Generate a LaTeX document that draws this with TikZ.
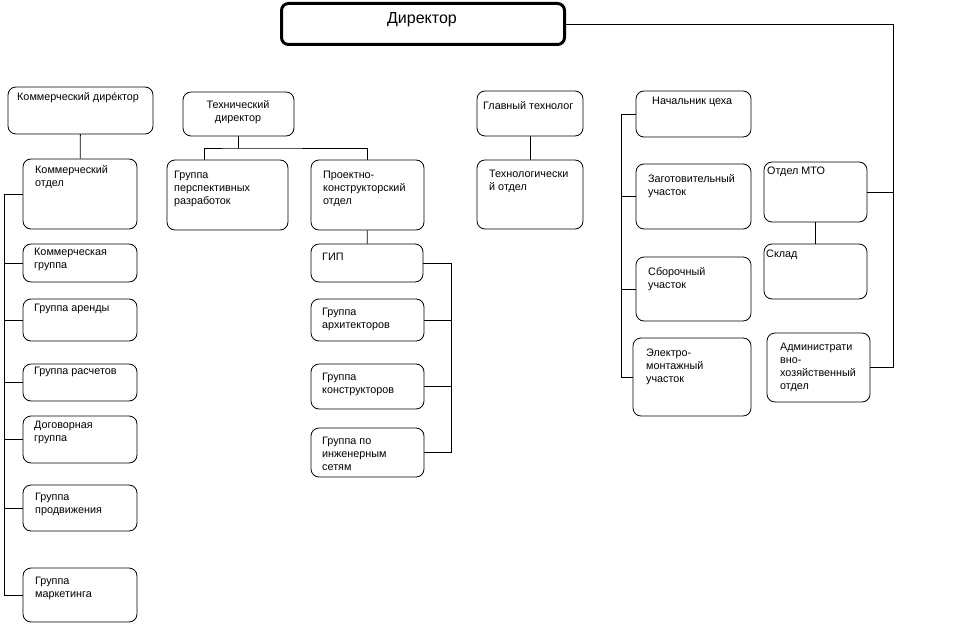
\documentclass[tikz,border=0pt]{standalone}
\usepackage{fontspec}
\setmainfont{Liberation Sans}
\tikzset{
	orgbox/.style={draw, rounded corners=8pt, line width=0.8pt, inner sep=0pt},
	orgtxt/.style={inner sep=0pt, align=left, anchor=north west, font=\fontsize{10.8}{13}\selectfont},
	orgline/.style={line width=0.8pt},
}

\begin{document}
\begin{tikzpicture}[x=1pt, y=-1pt]
	\useasboundingbox (0,0) rectangle (965,628);

	% Director
	\node[orgbox, line width=3pt, rounded corners=7pt, minimum width=283, minimum height=41] (dir) at (423,24) {};
	\node[font=\fontsize{16}{18}\selectfont, inner sep=0pt, anchor=north] (dir-t) at (422,12) {Директор};

	% Commercial branch
	\node[orgbox, minimum width=145, minimum height=47] (kdir) at (80.5,110.5) {};
	\node[orgtxt] (kdir-t) at (17,92) {Коммерческий дире́ктор};
	\node[orgbox, minimum width=114, minimum height=70] (kotd) at (80,194) {};
	\node[orgtxt] (kotd-t) at (35,165) {Коммерческий\\отдел};
	\node[orgbox, minimum width=114, minimum height=38] (kgr) at (80,263) {};
	\node[orgtxt] (kgr-t) at (34,248) {Коммерческая\\группа};
	\node[orgbox, minimum width=114, minimum height=42] (kar) at (80,320) {};
	\node[orgtxt] (kar-t) at (34,304) {Группа аренды};
	\node[orgbox, minimum width=114, minimum height=37] (kras) at (80,382.5) {};
	\node[orgtxt] (kras-t) at (34,367) {Группа расчетов};
	\node[orgbox, minimum width=114, minimum height=47] (kdog) at (80,439.5) {};
	\node[orgtxt] (kdog-t) at (34,421) {Договорная\\группа};
	\node[orgbox, minimum width=114, minimum height=46] (kprod) at (80,508) {};
	\node[orgtxt] (kprod-t) at (35,493) {Группа\\продвижения};
	\node[orgbox, minimum width=114, minimum height=54] (kmar) at (80,595) {};
	\node[orgtxt] (kmar-t) at (35,577) {Группа\\маркетинга};

	% Technical branch
	\node[orgbox, minimum width=111, minimum height=44] (tdir) at (238.5,114) {};
	\node[orgtxt, align=center, anchor=north] (tdir-t) at (238,100) {Технический\\директор};
	\node[orgbox, minimum width=121, minimum height=70] (persp) at (227.5,195) {};
	\node[orgtxt] (persp-t) at (174,171) {Группа\\перспективных\\разработок};
	\node[orgbox, minimum width=113, minimum height=70] (proj) at (367.5,195) {};
	\node[orgtxt] (proj-t) at (323,171) {Проектно-\\конструкторский\\отдел};
	\node[orgbox, minimum width=112, minimum height=38] (gip) at (367,263) {};
	\node[orgtxt] (gip-t) at (322,253) {ГИП};
	\node[orgbox, minimum width=113, minimum height=42] (arch) at (367.5,320) {};
	\node[orgtxt] (arch-t) at (322,308) {Группа\\архитекторов};
	\node[orgbox, minimum width=113, minimum height=45] (konstr) at (367.5,386.5) {};
	\node[orgtxt] (konstr-t) at (322,373) {Группа\\конструкторов};
	\node[orgbox, minimum width=113, minimum height=49] (inzh) at (367.5,452.5) {};
	\node[orgtxt] (inzh-t) at (322,437) {Группа по\\инженерным\\сетям};

	% Technologist
	\node[orgbox, minimum width=106, minimum height=45] (gtech) at (530,113.5) {};
	\node[orgtxt] (gtech-t) at (483,101) {Главный технолог};
	\node[orgbox, minimum width=106, minimum height=69] (totd) at (530,194.5) {};
	\node[orgtxt] (totd-t) at (489,170) {Технологически\\й отдел};

	% Workshop
	\node[orgbox, minimum width=115, minimum height=46] (nach) at (693.5,114) {};
	\node[orgtxt] (nach-t) at (652,97) {Начальник цеха};
	\node[orgbox, minimum width=115, minimum height=65] (zag) at (693.5,196.5) {};
	\node[orgtxt] (zag-t) at (648,174) {Заготовительный\\участок};
	\node[orgbox, minimum width=115, minimum height=64] (sbor) at (693.5,289) {};
	\node[orgtxt] (sbor-t) at (648,267) {Сборочный\\участок};
	\node[orgbox, minimum width=118, minimum height=78] (elek) at (692,377) {};
	\node[orgtxt] (elek-t) at (646,349) {Электро-\\монтажный\\участок};

	% Supply and administration
	\node[orgbox, minimum width=103, minimum height=60] (mto) at (815.5,192) {};
	\node[orgtxt] (mto-t) at (767,167) {Отдел МТО};
	\node[orgbox, minimum width=103, minimum height=55] (sklad) at (815.5,271.5) {};
	\node[orgtxt] (sklad-t) at (766,250) {Склад};
	\node[orgbox, minimum width=103, minimum height=69] (adm) at (818.5,367.5) {};
	\node[orgtxt] (adm-t) at (780,343) {Администрати\\вно-\\хозяйственный\\отдел};

	% Buses
	\coordinate (kbus) at (4,0);
	\coordinate (tfork) at (238.5,148);
	\coordinate (pbus) at (451,0);
	\coordinate (cbus) at (621,0);
	\coordinate (rbus) at (893,367.5);

	% Connectors
	\draw[orgline] (kdir) -- (kotd);
	\draw[orgline] (kotd.west) -| (kmar.west -| kbus) -- (kmar.west);
	\foreach \n in {kgr,kar,kras,kdog,kprod}
		\draw[orgline] (\n.west) -- (\n.west -| kbus);
	\draw[orgline] (tdir) -- (tfork);
	\draw[orgline] ([xshift=-23.5pt]persp.north) |- (tfork) -| (proj.north);
	\draw[orgline] (proj) -- (gip);
	\draw[orgline] (gip.east) -| (inzh.east -| pbus) -- (inzh.east);
	\foreach \n in {arch,konstr}
		\draw[orgline] (\n.east) -- (\n.east -| pbus);
	\draw[orgline] (gtech) -- (totd);
	\draw[orgline] (nach.west) -| (elek.west -| cbus) -- (elek.west);
	\foreach \n in {zag,sbor}
		\draw[orgline] (\n.west) -- (\n.west -| cbus);
	\draw[orgline] (mto) -- (sklad);
	\draw[orgline] (dir.east) -| (rbus) -- (adm.east);
	\draw[orgline] (mto.east) -- (mto.east -| rbus);
\end{tikzpicture}
\end{document}
